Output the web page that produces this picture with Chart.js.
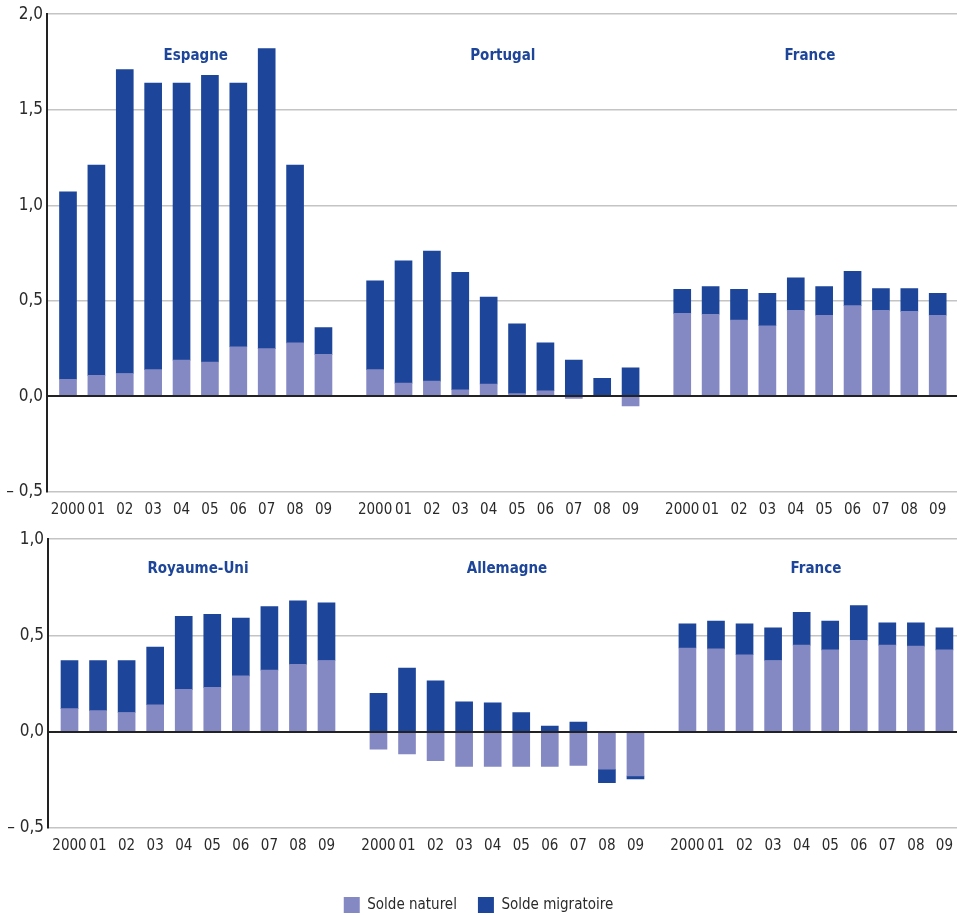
<!DOCTYPE html>
<html><head><meta charset="utf-8">
<script src="https://cdn.jsdelivr.net/npm/chart.js@4"></script>
<style>
html,body{margin:0;padding:0;background:#fff;overflow:hidden;width:957px;height:915px}
#c1{position:absolute;left:0;top:0}
#c2{position:absolute;left:0;top:525px}
</style></head><body>
<canvas id="c1" width="957" height="525"></canvas>
<canvas id="c2" width="957" height="398"></canvas>
<script>
const years = ['2000','01','02','03','04','05','06','07','08','09'];
const topCountries = ['Espagne','Portugal','France'];
const bottomCountries = ['Royaume-Uni','Allemagne','France'];
const seriesNames = ['Solde naturel','Solde migratoire'];

const espNat = [0.09,0.11,0.12,0.14,0.19,0.18,0.26,0.25,0.28,0.22];
const espMig = [0.98,1.10,1.59,1.50,1.45,1.50,1.38,1.57,0.93,0.14];
const porNat = [0.14,0.07,0.08,0.035,0.065,0.015,0.03,-0.01,0.0,-0.05];
const porMig = [0.465,0.64,0.68,0.615,0.455,0.365,0.25,0.19,0.095,0.15];
const fraNat = [0.435,0.43,0.40,0.37,0.45,0.425,0.475,0.45,0.445,0.425];
const fraMig = [0.125,0.145,0.16,0.17,0.17,0.15,0.18,0.115,0.12,0.115];
const ukNat  = [0.12,0.11,0.10,0.14,0.22,0.23,0.29,0.32,0.35,0.37];
const ukMig  = [0.25,0.26,0.27,0.30,0.38,0.38,0.30,0.33,0.33,0.30];
const deuNat = [-0.09,-0.115,-0.15,-0.18,-0.18,-0.18,-0.18,-0.175,-0.195,-0.23];
const deuMig = [0.20,0.33,0.265,0.155,0.15,0.10,0.03,0.05,-0.07,-0.015];

const topTicks = [-0.5,0,0.5,1.0,1.5,2.0];
const bottomTicks = [-0.5,0,0.5,1.0];

const GROUP_STEP = 10.82;
const FONT = "'Liberation Sans Narrow','DejaVu Sans Condensed','Roboto Condensed',sans-serif";
const DARK = '#1d4599', LIGHT = '#8489c3', TEXT = '#2a2a2a';

function points(groups){
  const out = [];
  groups.forEach((arr,g)=>arr.forEach((v,i)=>out.push({x:g*GROUP_STEP+i, y:v})));
  return out;
}
function positions(nGroups){
  const out = [];
  for(let g=0; g<nGroups; g++) for(let i=0;i<years.length;i++) out.push(g*GROUP_STEP+i);
  return out;
}
function fmt(v){
  const s = Math.abs(v).toFixed(1).replace('.',',');
  return v < 0 ? '\u2013 ' + s : s;
}

const groupTitles = {
  id:'groupTitles',
  afterDatasetsDraw(chart, args, opts){
    const {ctx, chartArea, scales:{x,y}} = chart;
    ctx.save();
    const y0 = Math.round(y.getPixelForValue(0));
    ctx.strokeStyle = '#222'; ctx.lineWidth = 2;
    ctx.beginPath(); ctx.moveTo(chartArea.left, y0); ctx.lineTo(chartArea.right, y0); ctx.stroke();
    ctx.fillStyle = DARK;
    ctx.font = "bold 15px " + FONT;
    ctx.textAlign = 'center'; ctx.textBaseline = 'middle';
    opts.names.forEach((n,g)=>{
      ctx.fillText(n, x.getPixelForValue(g*GROUP_STEP + 4.5), y.getPixelForValue(opts.yValue));
    });
    ctx.restore();
  }
};

function make(id, countries, nat, mig, o){
  const pos = positions(countries.length);
  return new Chart(document.getElementById(id), {
    type:'bar',
    data:{datasets:[
      {label:seriesNames[0], data:points(nat), backgroundColor:LIGHT, barThickness:17},
      {label:seriesNames[1], data:points(mig), backgroundColor:DARK, barThickness:17}
    ]},
    options:{
      responsive:false, animation:false,
      layout:{padding:{top:o.padTop,left:0,right:0,bottom:0}},
      scales:{
        x:{type:'linear', min:o.xmin, max:o.xmax, stacked:true, offset:false,
           grid:{display:false}, border:{display:false},
           afterBuildTicks:s=>{ s.ticks = pos.map(v=>({value:v})); },
           afterFit:s=>{ s.height = o.xHeight; s.paddingLeft = 0; s.paddingRight = 0; },
           ticks:{autoSkip:false, maxRotation:0, padding:o.xPad, color:TEXT,
                  font:{family:FONT,size:15},
                  callback:(v,i)=>years[i % years.length]}},
        y:{type:'linear', min:o.ymin, max:o.ymax, stacked:true,
           afterBuildTicks:s=>{ s.ticks = o.yTicks.map(v=>({value:v})); },
           afterFit:s=>{ s.width = o.yWidth; },
           ticks:{padding:4, color:TEXT, font:{family:FONT,size:17}, callback:v=>fmt(v)},
           grid:{drawTicks:false,
                 color:c=> (c.tick && c.tick.value===0) ? '#222' : '#c4c4c4',
                 lineWidth:c=> (c.tick && c.tick.value===0) ? 2 : 1.5},
           border:{display:true,color:'#222',width:2}}
      },
      plugins:{
        tooltip:{enabled:false},
        legend:o.legend ? {display:true, position:'bottom',
           labels:{boxWidth:16, boxHeight:16, padding:21, color:TEXT, font:{family:FONT,size:15}}}
          : {display:false},
        groupTitles:{names:countries, yValue:o.titleY}
      }
    },
    plugins:[groupTitles]
  });
}

make('c1', topCountries, [espNat,porNat,fraNat], [espMig,porMig,fraMig],
  {ymin:-0.5, ymax:2.0, yTicks:topTicks, xmin:-0.74, xmax:31.32, yWidth:47, xHeight:33, xPad:1, padTop:14, titleY:1.783, legend:false});
make('c2', bottomCountries, [ukNat,deuNat,fraNat], [ukMig,deuMig,fraMig],
  {ymin:-0.5, ymax:1.0, yTicks:bottomTicks, xmin:-0.753, xmax:31.08, yWidth:48, xHeight:48, xPad:1, padTop:12, titleY:0.843, legend:true});
</script>
</body></html>
